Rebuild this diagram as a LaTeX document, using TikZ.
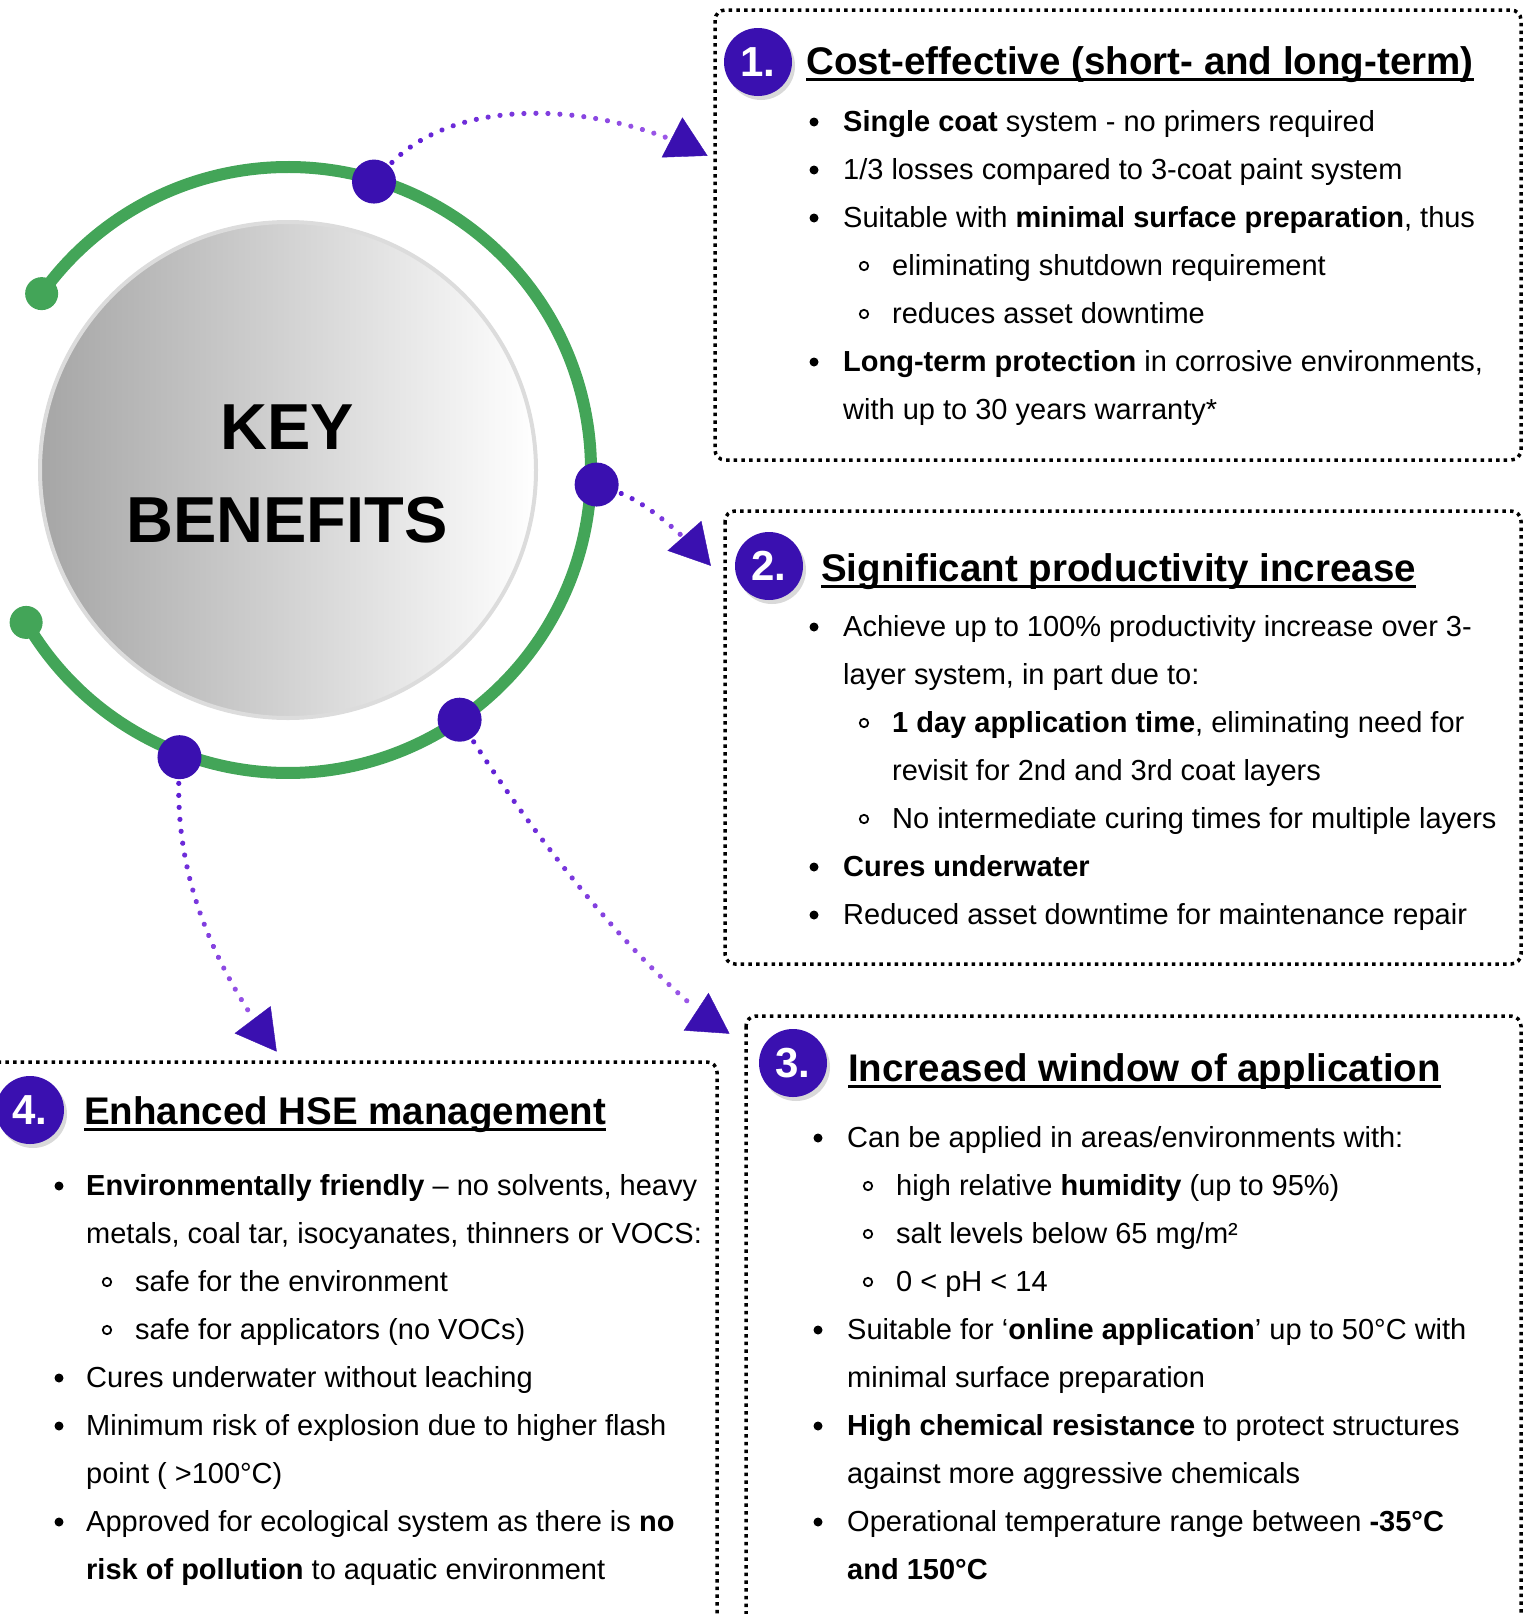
\documentclass[tikz,border=0pt]{standalone}
\usepackage{fontspec}
\setmainfont{Liberation Sans}
\usetikzlibrary{arrows.meta,shadows,decorations.markings}
\definecolor{ringgreen}{HTML}{43A558}
\definecolor{hubpurple}{HTML}{3A10B0}
\definecolor{dotdark}{HTML}{5B1BD3}
\definecolor{dotlight}{HTML}{A560EA}
\definecolor{diskrim}{HTML}{DCDCDC}
\tikzset{
  hub/.style={circle,fill=hubpurple,minimum size=44pt,inner sep=0pt},
  capdot/.style={circle,fill=ringgreen,minimum size=33pt,inner sep=0pt},
  disk/.style={circle,minimum size=496pt,inner sep=0pt,left color=gray!70,right color=white,draw=diskrim,line width=4pt},
  keytxt/.style={anchor=base,inner sep=0pt,font=\fontsize{65}{78}\selectfont\bfseries},
  badge/.style={circle,fill=hubpurple,minimum size=68pt,inner sep=0pt,text=white,
    font=\fontsize{42}{42}\selectfont\bfseries,
    drop shadow={shadow xshift=3pt,shadow yshift=-4pt,opacity=.3}},
  ttl/.style={anchor=base west,inner sep=0pt,font=\fontsize{38.5}{46}\selectfont\bfseries},
  txt/.style={anchor=base west,inner sep=0pt,font=\fontsize{29}{35}\selectfont},
  boxline/.style={line width=3.5pt,dash pattern=on 3.5pt off 4.2pt,rounded corners=10pt},
  subdot/.style={line width=1.8pt},
  flow/.style={decoration={markings,
      mark=between positions 4pt and -44pt step 12pt with {%
        \pgfmathsetmacro{\mix}{\pgfkeysvalueof{/pgf/decoration/mark info/distance from start}/\pgfdecoratedpathlength*100}%
        \fill[dotlight!\mix!dotdark] (0,0) circle (2.6pt);},
      mark=at position 0.998 with {\arrow[hubpurple]{Triangle[length=40pt,width=45pt]}}},
    decorate}
}
\begin{document}
\begin{tikzpicture}[x=1pt,y=1pt]
		\useasboundingbox (0,0) rectangle (1523,-1614);
		% ring round the centre
		\coordinate (ring) at (288,-470);
		\draw[ringgreen,line width=12pt] (ring) ++(144.4:303) arc[start angle=144.4,end angle=-149.8,radius=303];
		\path (ring) ++(144.4:303) node[capdot] (capA) {};
		\path (ring) ++(-149.8:303) node[capdot] (capB) {};
		\node[disk] (core) at (ring) {};
		\node[keytxt] (key1) at (287,-449) {KEY};
		\node[keytxt] (key2) at (287,-542) {BENEFITS};
		\path (ring) ++(73.4:301) node[hub] (d1) {};
		\path (ring) ++(-2.7:309) node[hub] (d2) {};
		\path (ring) ++(-55.5:303) node[hub] (d3) {};
		\path (ring) ++(-110.7:307) node[hub] (d4) {};
		% dotted arrows
		\coordinate (tip1) at (708,-156);
		\coordinate (tip2) at (711,-566);
		\coordinate (tip3) at (730,-1034);
		\coordinate (tip4) at (277,-1052);
		\path[flow] (d1) .. controls (455,-95) and (600,-100) .. (tip1);
		\path[flow] (d2) .. controls (640,-500) and (675,-525) .. (tip2);
		\path[flow] (d3) .. controls (530,-830) and (640,-975) .. (tip3);
		\path[flow] (d4) .. controls (176,-880) and (215,-970) .. (tip4);
		% boxes
		\draw[boxline] (715,-10) rectangle (1521,-460);
		\draw[boxline] (725,-511) rectangle (1521,-964);
		\draw[boxline] (746,-1016) rectangle (1521,-1660);
		\draw[boxline] (-20,-1062) rectangle (717,-1660);
		% 1
		\node[ttl] (ttl1) at (806,-74) {Cost-effective (short- and long-term)};
		\draw[line width=3pt] ([yshift=-5pt]ttl1.base west) -- ([yshift=-5pt]ttl1.base east);
		\node[txt] (c1) at (843,-131) {\textbf{Single coat} system - no primers required};
		\node[txt] (c2) at (843,-179) {1/3 losses compared to 3-coat paint system};
		\node[txt] (c3) at (843,-227) {Suitable with \textbf{minimal surface preparation}, thus};
		\node[txt] (c4) at (892,-275) {eliminating shutdown requirement};
		\node[txt] (c5) at (892,-323) {reduces asset downtime};
		\node[txt] (c6) at (843,-371) {\textbf{Long-term protection} in corrosive environments,};
		\node[txt] (c7) at (843,-419) {with up to 30 years warranty*};
		\foreach \y in {131,179,227,371}
		\fill (814,9-\y) circle (4.5);
		\foreach \y in {275,323}
		\draw[subdot] (864,9-\y) circle (4.2);
		% 2
		\node[ttl] (ttl2) at (821,-581) {Significant productivity increase};
		\draw[line width=3pt] ([yshift=-5pt]ttl2.base west) -- ([yshift=-5pt]ttl2.base east);
		\node[txt] (p1) at (843,-636) {Achieve up to 100\% productivity increase over 3-};
		\node[txt] (p2) at (843,-684) {layer system, in part due to:};
		\node[txt] (p3) at (892,-732) {\textbf{1 day application time}, eliminating need for};
		\node[txt] (p4) at (892,-780) {revisit for 2nd and 3rd coat layers};
		\node[txt] (p5) at (892,-828) {No intermediate curing times for multiple layers};
		\node[txt] (p6) at (843,-876) {\textbf{Cures underwater}};
		\node[txt] (p7) at (843,-924) {Reduced asset downtime for maintenance repair};
		\foreach \y in {636,876,924}
		\fill (814,9-\y) circle (4.5);
		\foreach \y in {732,828}
		\draw[subdot] (864,9-\y) circle (4.2);
		% 3
		\node[ttl] (ttl3) at (848,-1081) {Increased window of application};
		\draw[line width=3pt] ([yshift=-5pt]ttl3.base west) -- ([yshift=-5pt]ttl3.base east);
		\node[txt] (w1) at (847,-1147) {Can be applied in areas/environments with:};
		\node[txt] (w2) at (896,-1195) {high relative \textbf{humidity} (up to 95\%)};
		\node[txt] (w3) at (896,-1243) {salt levels below 65 mg/m²};
		\node[txt] (w4) at (896,-1291) {0 < pH < 14};
		\node[txt] (w5) at (847,-1339) {Suitable for ‘\textbf{online application}’ up to 50°C with};
		\node[txt] (w6) at (847,-1387) {minimal surface preparation};
		\node[txt] (w7) at (847,-1435) {\textbf{High chemical resistance} to protect structures};
		\node[txt] (w8) at (847,-1483) {against more aggressive chemicals};
		\node[txt] (w9) at (847,-1531) {Operational temperature range between \textbf{-35°C}};
		\node[txt] (w10) at (847,-1579) {\textbf{and 150°C}};
		\foreach \y in {1147,1339,1435,1531}
		\fill (818,9-\y) circle (4.5);
		\foreach \y in {1195,1243,1291}
		\draw[subdot] (868,9-\y) circle (4.2);
		% 4
		\node[ttl] (ttl4) at (84,-1124) {Enhanced HSE management};
		\draw[line width=3pt] ([yshift=-5pt]ttl4.base west) -- ([yshift=-5pt]ttl4.base east);
		\node[txt] (h1) at (86,-1195) {\textbf{Environmentally friendly} – no solvents, heavy};
		\node[txt] (h2) at (86,-1243) {metals, coal tar, isocyanates, thinners or VOCS:};
		\node[txt] (h3) at (135,-1291) {safe for the environment};
		\node[txt] (h4) at (135,-1339) {safe for applicators (no VOCs)};
		\node[txt] (h5) at (86,-1387) {Cures underwater without leaching};
		\node[txt] (h6) at (86,-1435) {Minimum risk of explosion due to higher flash};
		\node[txt] (h7) at (86,-1483) {point ( >100°C)};
		\node[txt] (h8) at (86,-1531) {Approved for ecological system as there is \textbf{no}};
		\node[txt] (h9) at (86,-1579) {\textbf{risk of pollution} to aquatic environment};
		\foreach \y in {1195,1387,1435,1531}
		\fill (59,9-\y) circle (4.5);
		\foreach \y in {1291,1339}
		\draw[subdot] (107,9-\y) circle (4.2);
		% badges
		\node[badge] (b1) at (758,-62) {1.};
		\node[badge] (b2) at (769,-566) {2.};
		\node[badge] (b3) at (793,-1063) {3.};
		\node[badge] (b4) at (30,-1110) {4.};
\end{tikzpicture}
\end{document}
